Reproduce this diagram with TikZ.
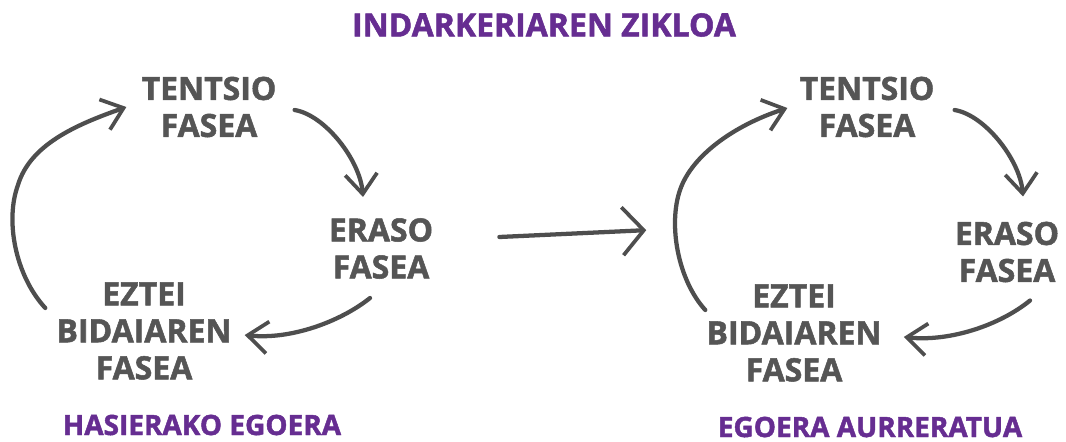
\documentclass[tikz,border=0pt]{standalone}
\usepackage{fontspec}
\setmainfont{Open Sans}[BoldFeatures={FakeBold=1.6}]
\usepackage{xcolor}
\usetikzlibrary{positioning,arrows.meta}
\definecolor{phasegray}{RGB}{85,85,85}
\definecolor{chalkgray}{RGB}{78,78,78}
\definecolor{cyclepurple}{RGB}{102,45,145}
\begin{document}
\begin{tikzpicture}[
  x=0.75pt, y=-0.75pt,
  phase/.style={
    inner sep=0pt,
    align=center,
    text=phasegray,
    font=\bfseries\fontsize{24}{27.75}\selectfont
  },
  heading/.style={inner sep=0pt, text=cyclepurple, font=\bfseries\fontsize{24}{28}\selectfont},
  caption/.style={inner sep=0pt, text=cyclepurple, font=\bfseries\fontsize{21}{25}\selectfont},
  chalk/.style={draw=chalkgray, line width=3.2pt, line cap=round,
    -{Straight Barb[length=15pt, width=24pt, line width=2.8pt]}},
  bigchalk/.style={draw=chalkgray, line width=3.2pt, line cap=round,
    -{Straight Barb[length=16pt, width=36pt, line width=2.8pt]}}
]
\useasboundingbox (0,0) rectangle (1066,442);

% Title
\node[heading] (title) at (544,25) {INDARKERIAREN ZIKLOA};

% Left cycle: initial situation
\node[phase] (ten1) at (209,107) {TENTSIO\\FASEA};
\node[phase] (era1) at (381,248.5) {ERASO\\FASEA};
\node[phase] (ezt1) at (144,331) {EZTEI\\BIDAIAREN\\FASEA};
\node[caption] (has) at (202,425) {HASIERAKO EGOERA};

% Right cycle: advanced situation
\node[phase] (ten2) at (867,107) {TENTSIO\\FASEA};
\node[phase] (era2) at (1007,252) {ERASO\\FASEA};
\node[phase] (ezt2) at (794,333) {EZTEI\\BIDAIAREN\\FASEA};
\node[caption] (ego) at (870,427) {EGOERA AURRERATUA};

% Left cycle arrows
\draw[chalk] ([shift={(18,3)}]ten1.east) .. controls (325,115) and (360,160) .. ([shift={(-18,-21)}]era1.north);
\draw[chalk] ([shift={(-11,19)}]era1.south) .. controls (340,322) and (290,340) .. ([shift={(13,4)}]ezt1.east);
\draw[chalk] ([shift={(-11,-23)}]ezt1.west) .. controls (15,275) and (5,220) .. (18,185)
  .. controls (30,145) and (75,125) .. ([shift={(-15,0)}]ten1.west);

% From the first cycle to the second
\coordinate (midL) at ([shift={(66,-11.5)}]era1.east);
\coordinate (midR) at ([shift={(-60,-54)}]ezt2.north west);
\draw[bigchalk] (midL) -- (midR);

% Right cycle arrows
\draw[chalk] ([shift={(20,3)}]ten2.east) .. controls (985,115) and (1020,160) .. ([shift={(16,-25)}]era2.north);
\draw[chalk] ([shift={(23,18)}]era2.south) .. controls (1000,325) and (950,342) .. ([shift={(22,4)}]ezt2.east);
\draw[chalk] ([shift={(-1,-23)}]ezt2.west) .. controls (678,280) and (668,225) .. (680,190)
  .. controls (692,155) and (735,125) .. ([shift={(-12,1)}]ten2.west);

\end{tikzpicture}
\end{document}
